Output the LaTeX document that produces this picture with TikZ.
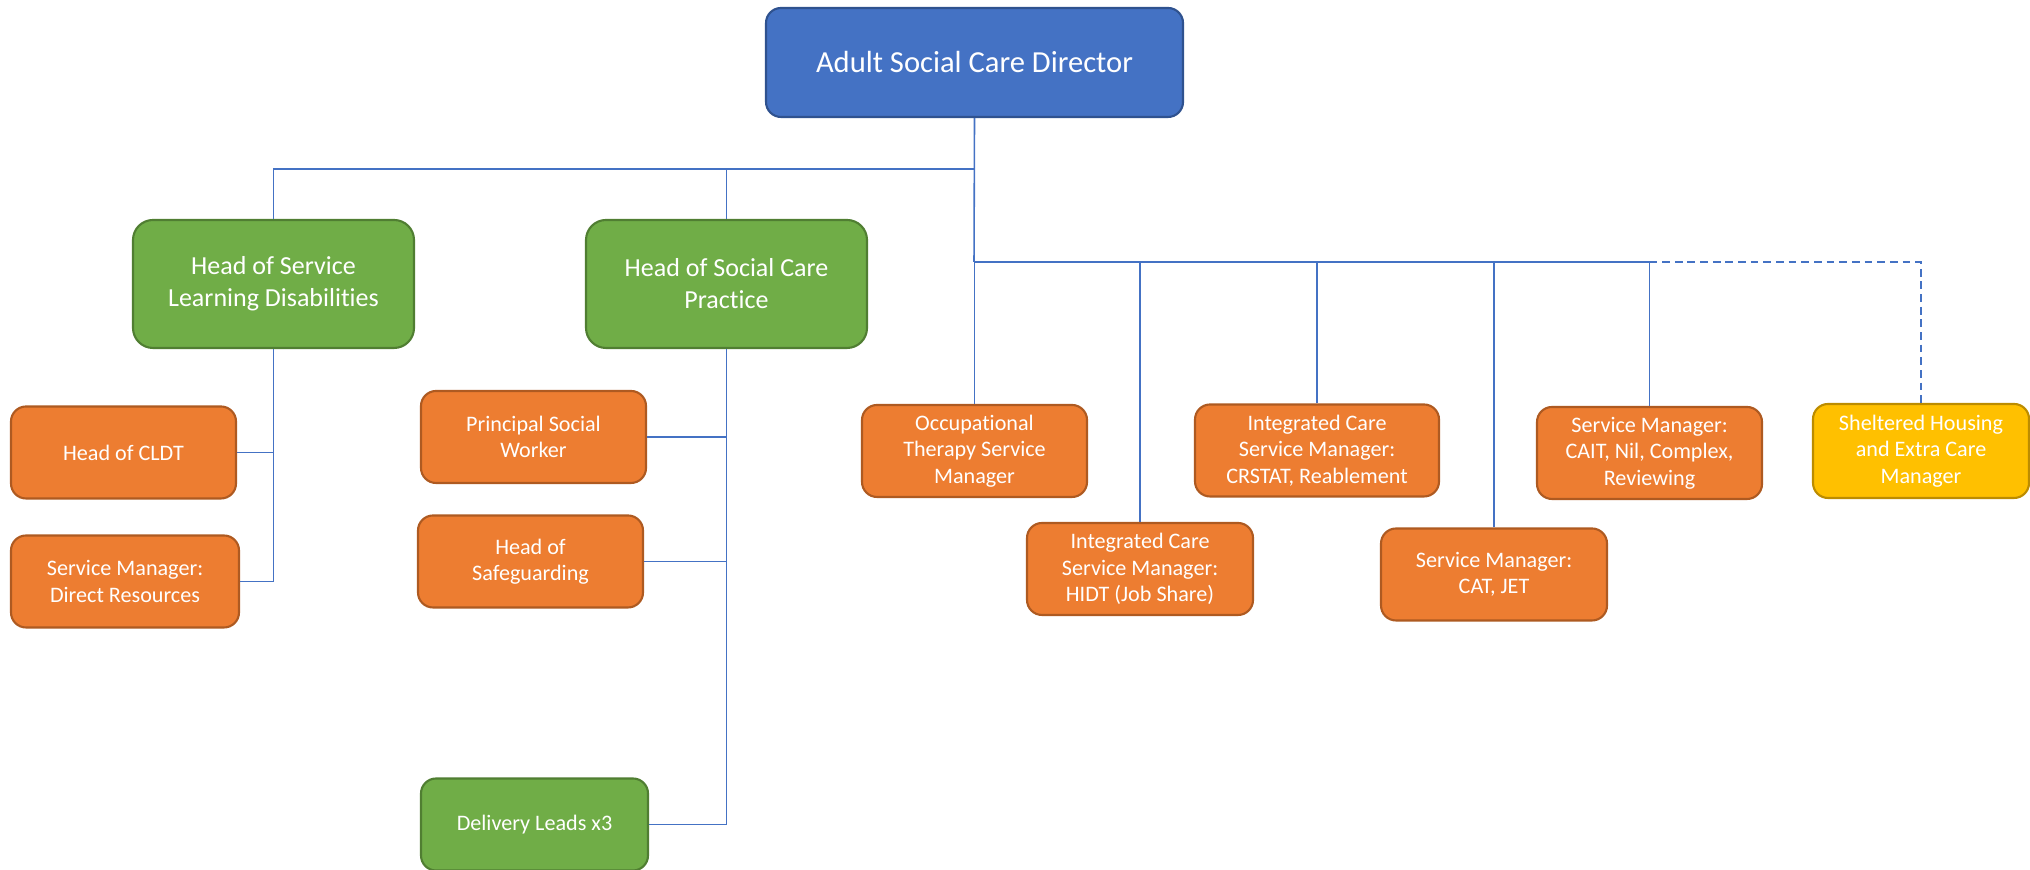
\documentclass[tikz,border=0pt]{standalone}
\usepackage{fontspec}
\setmainfont{Carlito}[Ligatures=NoCommon]
\definecolor{dirblue}{HTML}{4472C4}
\definecolor{dirline}{HTML}{2F528F}
\definecolor{hosgreen}{HTML}{70AD47}
\definecolor{hosline}{HTML}{507E32}
\definecolor{mgrorange}{HTML}{ED7D31}
\definecolor{mgrline}{HTML}{AE5A21}
\definecolor{shyellow}{HTML}{FFC000}
\definecolor{shline}{HTML}{BC8C00}
\begin{document}
\begin{tikzpicture}[
  box/.style={rounded corners=0.15cm,line width=0.6pt,text=white,align=center,inner sep=0pt},
  director/.style={box,fill=dirblue,draw=dirline,minimum width=4.17cm,minimum height=1.09cm,font=\fontsize{8.7}{10.5}\selectfont},
  head/.style={box,rounded corners=0.2cm,fill=hosgreen,draw=hosline,minimum width=2.81cm,minimum height=1.28cm,font=\fontsize{7.4}{9.1}\selectfont},
  manager/.style={box,fill=mgrorange,draw=mgrline,minimum width=2.25cm,minimum height=0.92cm,font=\fontsize{6.3}{7.5}\selectfont},
  lead/.style={manager,fill=hosgreen,draw=hosline},
  housing/.style={manager,fill=shyellow,draw=shline},
  link/.style={dirblue,line width=0.45pt},
  dotlink/.style={link,dash pattern=on 2.2pt off 1.4pt}
]
\useasboundingbox (0,0) rectangle (20.3,8.7);

\coordinate (busA) at (9.74,7.01);
\coordinate (busB) at (9.74,6.08);

\node[director] (dir) at (9.745,8.075) {Adult Social Care Director};

\node[head] (ld) at (2.735,5.86) {Head of Service\\Learning Disabilities};
\node[head] (scp) at (7.265,5.86) {Head of Social Care\\Practice};

\node[manager] (cldt) at (1.235,4.175) {Head of CLDT};
\node[manager,minimum width=2.28cm] (dr) at (1.25,2.885) {Service Manager:\\Direct Resources};

\node[manager] (psw) at (5.335,4.33) {Principal Social\\Worker};
\node[manager] (sg) at (5.305,3.085) {Head of\\Safeguarding};
\node[lead,minimum width=2.27cm] (dl) at (5.345,0.455) {Delivery Leads x3};

\node[manager] (ot) at (9.745,4.19) {Occupational\\Therapy Service\\Manager};
\node[manager,minimum width=2.26cm] (hidt) at (11.40,3.01) {Integrated Care\\Service Manager:\\HIDT (Job Share)};
\node[manager,minimum width=2.44cm] (crstat) at (13.17,4.195) {Integrated Care\\Service Manager:\\CRSTAT, Reablement};
\node[manager,minimum width=2.26cm] (catjet) at (14.94,2.955) {Service Manager:\\CAT, JET};
\node[manager] (cait) at (16.495,4.17) {Service Manager:\\CAIT, Nil, Complex,\\Reviewing};
\node[housing,minimum width=2.16cm,minimum height=0.94cm] (shelt) at (19.21,4.19) {Sheltered Housing\\and Extra Care\\Manager};

\draw[link] (dir.south) -- (busB);
\draw[link] (ld.north) -- (ld.north |- busA) -- (busA);
\draw[link] (scp.north) -- (scp.north |- busA);

\draw[link] (ld.south) -- (ld.south |- dr.east) -- (dr.east);
\draw[link] (cldt.east) -- (cldt.east -| ld.south);

\draw[link] (scp.south) -- (scp.south |- dl.east) -- (dl.east);
\draw[link] (psw.east) -- (psw.east -| scp.south);
\draw[link] (sg.east) -- (sg.east -| scp.south);

\draw[link] (busB) -- (busB -| cait.north) -- (cait.north);
\foreach \n in {ot,hidt,crstat,catjet}
  \draw[link] (\n.north) -- (\n.north |- busB);
\draw[dotlink] (busB -| cait.north) -- (busB -| shelt.north) -- (shelt.north);
\end{tikzpicture}
\end{document}
